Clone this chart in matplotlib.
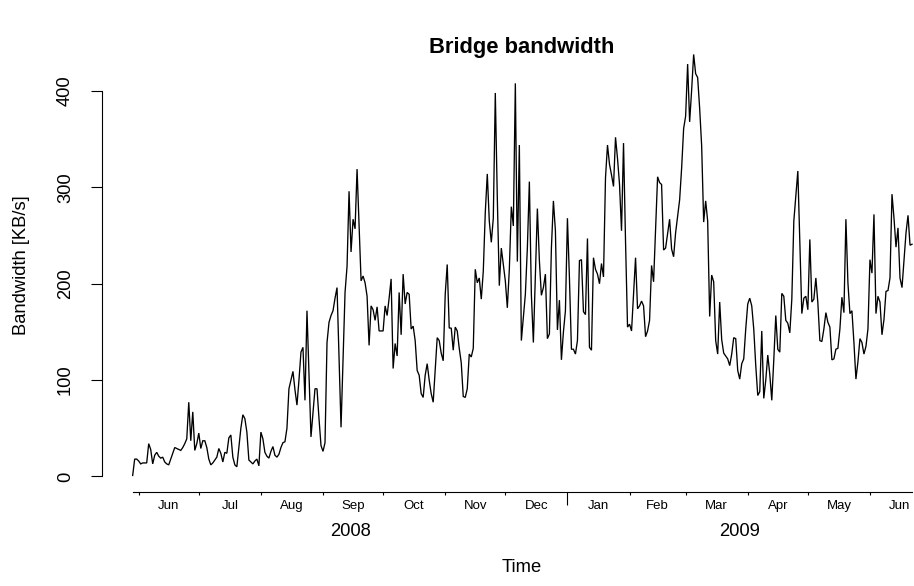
import matplotlib
matplotlib.use('Agg')
import matplotlib.pyplot as plt
import matplotlib.transforms as mtransforms
import matplotlib.dates as mdates
import pandas as pd
import numpy as np

plt.rcParams['font.family'] = ['Liberation Sans', 'DejaVu Sans']

# ---------------- data ----------------
start_date = '2008-05-29'
bandwidth = [
    1, 18, 18, 16, 13, 14, 14, 14, 34, 28,
    13, 22, 25, 21, 19, 20, 15, 13, 12, 18,
    24, 30, 29, 28, 27, 30, 34, 39, 77, 37,
    67, 27, 34, 45, 29, 37, 37, 30, 18, 12,
    14, 17, 20, 29, 24, 15, 25, 24, 40, 43,
    20, 12, 10, 30, 50, 64, 60, 46, 17, 15,
    13, 16, 18, 11, 46, 39, 25, 21, 19, 26,
    31, 22, 20, 23, 30, 35, 36, 50, 91, 100,
    109, 90, 74, 100, 129, 134, 79, 172, 106, 41,
    66, 91, 91, 60, 32, 26, 35, 139, 160, 167,
    172, 185, 196, 124, 51, 121, 191, 218, 296, 233,
    267, 257, 319, 260, 203, 208, 201, 187, 136, 177,
    173, 162, 176, 151, 151, 151, 177, 167, 185, 205,
    112, 138, 125, 191, 147, 210, 179, 191, 189, 153,
    156, 141, 110, 105, 86, 82, 105, 117, 100, 86,
    77, 111, 144, 141, 128, 120, 189, 220, 154, 154,
    131, 155, 151, 133, 118, 83, 82, 91, 127, 124,
    133, 215, 201, 206, 184, 213, 274, 314, 265, 243,
    268, 398, 289, 198, 237, 220, 203, 175, 215, 280,
    260, 408, 223, 344, 141, 165, 189, 237, 306, 189,
    139, 208, 278, 224, 188, 196, 210, 143, 148, 237,
    286, 255, 152, 183, 121, 150, 172, 268, 206, 132,
    132, 127, 141, 224, 225, 171, 168, 247, 134, 131,
    227, 215, 210, 200, 221, 207, 310, 344, 324, 313,
    301, 352, 330, 303, 255, 346, 244, 155, 158, 151,
    189, 227, 174, 177, 182, 177, 145, 151, 162, 219,
    202, 257, 311, 305, 303, 235, 237, 252, 267, 236,
    228, 253, 270, 287, 320, 361, 374, 428, 368, 401,
    438, 418, 414, 382, 343, 264, 286, 265, 166, 209,
    202, 141, 127, 181, 142, 128, 125, 122, 115, 127,
    144, 143, 110, 101, 117, 122, 153, 179, 185, 177,
    153, 115, 84, 88, 151, 81, 100, 126, 106, 79,
    121, 167, 132, 129, 190, 187, 162, 159, 149, 184,
    265, 291, 317, 243, 169, 185, 187, 173, 246, 181,
    184, 206, 180, 141, 140, 153, 170, 160, 155, 121,
    122, 132, 133, 153, 186, 170, 267, 201, 169, 172,
    139, 101, 119, 143, 139, 127, 135, 153, 225, 211,
    272, 169, 187, 181, 147, 163, 192, 193, 206, 293,
    268, 238, 258, 206, 196, 225, 253, 271, 240, 241,
]
y_ticks = [0, 100, 200, 300, 400]
y_tick_labels = ['0', '100', '200', '300', '400']
month_starts = pd.date_range('2008-06-01', '2009-06-01', freq='MS')
month_labels = ['Jun', 'Jul', 'Aug', 'Sep', 'Oct', 'Nov', 'Dec',
                'Jan', 'Feb', 'Mar', 'Apr', 'May', 'Jun']
year_labels = ['2008', '2009']
title = 'Bridge bandwidth'
xlabel = 'Time'
ylabel = 'Bandwidth [KB/s]'

# ---------------- figure ----------------
W, H = 914, 586
fig = plt.figure(figsize=(W / 100, H / 100), dpi=100)
left_px, right_px = 101.5, 943.2
top_px, bottom_px = 37.6, 492.3
ax = fig.add_axes([left_px / W, 1 - bottom_px / H,
                   (right_px - left_px) / W, (bottom_px - top_px) / H])

dates = pd.date_range(start_date, periods=len(bandwidth), freq='D')
x = mdates.date2num(dates.to_pydatetime())
y = np.array(bandwidth, dtype=float)

ax.plot(x, y, color='black', lw=0.95, solid_joinstyle='miter')

xr = x[-1] - x[0]
ax.set_xlim(x[0] - 0.04 * xr, x[-1] + 0.04 * xr)
yr = y.max() - y.min()
ax.set_ylim(y.min() - 0.04 * yr, y.max() + 0.04 * yr)

for s in ['top', 'right']:
    ax.spines[s].set_visible(False)
ax.spines['left'].set_bounds(y_ticks[0], y_ticks[-1])
ax.spines['bottom'].set_bounds(x[0], x[-1])
for s in ['left', 'bottom']:
    ax.spines[s].set_linewidth(0.8)

# y ticks (labels drawn manually, rotated, R style)
ax.set_yticks(y_ticks)
ax.set_yticklabels([])
ax.tick_params(axis='y', length=8.0, width=0.8, direction='out')

# x ticks: month starts, with a long tick at the year boundary
ms_num = mdates.date2num(month_starts.to_pydatetime())
year_mask = np.array([d.month == 1 for d in month_starts])
ax.set_xticks(ms_num[~year_mask])
ax.set_xticks(ms_num[year_mask], minor=True)
ax.set_xticklabels([])
ax.set_xticklabels([], minor=True)
ax.tick_params(axis='x', which='major', length=2.4, width=0.8, direction='out')
ax.tick_params(axis='x', which='minor', length=9.0, width=0.8, direction='out')

bt = mtransforms.blended_transform_factory(ax.transData, fig.transFigure)
bty = mtransforms.blended_transform_factory(fig.transFigure, ax.transData)

base = 13.2

# month labels at month centres
for ms, lab in zip(month_starts, month_labels):
    me = ms + pd.offsets.MonthBegin(1)
    xc = (mdates.date2num(ms.to_pydatetime()) + mdates.date2num(me.to_pydatetime())) / 2
    ax.text(xc, 1 - 506 / H, lab, transform=bt, ha='center', va='center',
            fontsize=base * 0.72, clip_on=False)

# year labels centred on each year's visible span
for yl in year_labels:
    ys = max(mdates.date2num(pd.Timestamp(yl + '-01-01').to_pydatetime()), x[0])
    ye = min(mdates.date2num(pd.Timestamp(str(int(yl) + 1) + '-01-01').to_pydatetime()), x[-1])
    ax.text((ys + ye) / 2, 1 - 531 / H, yl, transform=bt, ha='center', va='center',
            fontsize=base, clip_on=False)

for v, lab in zip(y_ticks, y_tick_labels):
    ax.text(65.5 / W, v, lab, transform=bty, rotation=90, ha='center', va='center',
            fontsize=base, clip_on=False)

fig.text(22 / W, 1 - 265 / H, ylabel, rotation=90, ha='center', va='center', fontsize=base)
fig.text(522 / W, 1 - 567 / H, xlabel, ha='center', va='center', fontsize=base)
fig.text(522 / W, 1 - 47 / H, title, ha='center', va='center', fontsize=base * 1.2,
         fontweight='bold')

fig.savefig('out.png', dpi=100)
